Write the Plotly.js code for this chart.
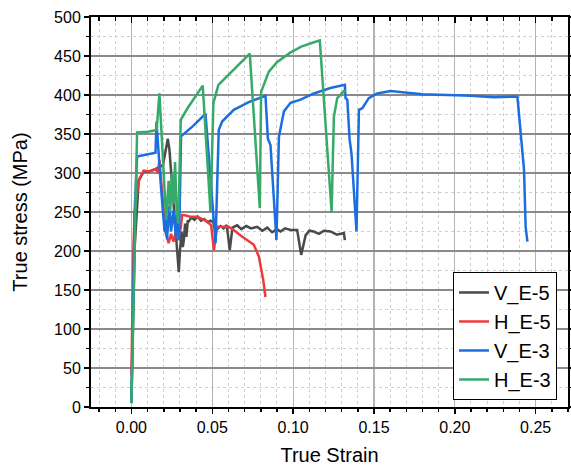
<!DOCTYPE html>
<html><head><meta charset="utf-8">
<script src="https://cdn.plot.ly/plotly-3.0.1.min.js"></script>
<style>html,body{margin:0;padding:0;background:#fff}#chart{width:571px;height:470px}</style>
</head><body><div id="chart"></div>
<script>
// Data
const seriesNames = ["V_E-5", "H_E-5", "V_E-3", "H_E-3"];

const vE5_x = [0.0, 0.001, 0.002, 0.0045, 0.0076, 0.011, 0.0149, 0.0195, 0.0215, 0.0225, 0.0235, 0.0252, 0.027, 0.0285, 0.0293, 0.030, 0.031, 0.0318, 0.0324, 0.0332, 0.034, 0.0348, 0.0355, 0.037, 0.039, 0.041, 0.043, 0.045, 0.047, 0.049, 0.051, 0.053, 0.055, 0.057, 0.059, 0.0608, 0.0625, 0.0654, 0.068, 0.071, 0.074, 0.0778, 0.081, 0.084, 0.087, 0.090, 0.0922, 0.095, 0.0984, 0.1025, 0.105, 0.1077, 0.110, 0.1128, 0.116, 0.119, 0.1231, 0.127, 0.1314, 0.132];
const vE5_y = [5, 110, 205, 290, 302, 302, 305, 310, 330, 344, 330, 287, 240, 200, 173, 200, 225, 205, 214, 235, 218, 238, 238, 243, 240, 244, 239, 241, 237, 239, 236, 228, 232, 229, 233, 201, 230, 233, 228, 232, 229, 231, 226, 230, 224, 228, 225, 229, 227, 227, 195, 220, 226, 225, 222, 226, 225, 221, 223, 214];

const hE5_x = [0.0, 0.0005, 0.0012, 0.002, 0.0045, 0.0076, 0.011, 0.0149, 0.0165, 0.0173, 0.019, 0.021, 0.023, 0.0245, 0.026, 0.0275, 0.029, 0.0305, 0.0314, 0.0324, 0.0365, 0.0407, 0.0468, 0.0493, 0.051, 0.053, 0.0602, 0.0633, 0.0675, 0.0705, 0.0757, 0.0788, 0.0815, 0.0829];
const hE5_y = [40, 120, 200, 249, 291, 303, 302, 305, 300, 317, 270, 225, 210, 222, 212, 225, 214, 230, 246, 246, 244, 244, 238, 233, 201, 231, 231, 227, 220, 216, 208, 193, 163, 141];

const vE3_x = [0.0, 0.001, 0.002, 0.0035, 0.008, 0.0149, 0.0155, 0.0165, 0.018, 0.0195, 0.0205, 0.0215, 0.022, 0.0235, 0.0245, 0.026, 0.0275, 0.0285, 0.0295, 0.0307, 0.0344, 0.038, 0.042, 0.0458, 0.052, 0.054, 0.0561, 0.0633, 0.0726, 0.0829, 0.0844, 0.086, 0.0897, 0.0912, 0.0943, 0.0984, 0.1046, 0.1128, 0.1231, 0.132, 0.1324, 0.1335, 0.1349, 0.1361, 0.1392, 0.1407, 0.1428, 0.1468, 0.152, 0.1603, 0.1706, 0.18, 0.1954, 0.21, 0.2242, 0.2387, 0.2428, 0.2438, 0.2449];
const vE3_y = [5, 120, 250, 321, 323, 326, 366, 330, 290, 250, 225, 245, 215, 258, 225, 252, 218, 255, 214, 347, 353, 360, 368, 376, 210, 355, 366, 381, 391, 399, 344, 336, 214, 346, 379, 390, 394, 402, 409, 413, 396, 394, 344, 325, 225, 381, 383, 396, 402, 405, 403, 401, 400, 399, 397, 398, 304, 231, 212];

const hE3_x = [0.0, 0.001, 0.002, 0.0035, 0.01, 0.0156, 0.0173, 0.019, 0.0205, 0.0215, 0.023, 0.024, 0.025, 0.026, 0.027, 0.028, 0.029, 0.0297, 0.0305, 0.0347, 0.0441, 0.0489, 0.0507, 0.0538, 0.0613, 0.0732, 0.0794, 0.0802, 0.085, 0.090, 0.098, 0.105, 0.112, 0.1165, 0.1238, 0.1252, 0.1273, 0.1314, 0.1324];
const hE3_y = [5, 100, 220, 352, 353, 355, 402, 330, 270, 240, 290, 250, 300, 260, 314, 250, 235, 300, 368, 383, 412, 250, 390, 413, 428, 453, 255, 404, 430, 442, 454, 462, 467, 470, 250, 372, 396, 405, 404];

const colors = ["#4a4a4a", "#ee3a3a", "#1c6ee0", "#36aa68"];
const xs = [vE5_x, hE5_x, vE3_x, hE3_x];
const ys = [vE5_y, hE5_y, vE3_y, hE3_y];

const traces = seriesNames.map((n, i) => ({
  x: xs[i], y: ys[i], name: n, type: "scatter", mode: "lines",
  line: {color: colors[i], width: 2.5}
}));
// invisible trace to activate the top (mirror) axis
traces.push({x: [null], y: [null], xaxis: "x2", yaxis: "y", showlegend: false, hoverinfo: "skip", mode: "lines"});

const font = {family: "Arial, Liberation Sans, sans-serif", color: "#000"};
const layout = {
  width: 571, height: 470,
  margin: {l: 91, r: 3, t: 17, b: 63},
  paper_bgcolor: "#fff", plot_bgcolor: "#fff",
  showlegend: true,
  legend: {x: 0.977, xanchor: "right", y: 0.018, yanchor: "bottom",
    bgcolor: "#fff", bordercolor: "#000", borderwidth: 1,
    font: Object.assign({}, font, {size: 20}), tracegroupgap: 0, itemwidth: 30},
  xaxis: {
    range: [-0.025, 0.27], tickvals: [0, 0.05, 0.1, 0.15, 0.2, 0.25],
    ticktext: ["0.00", "0.05", "0.10", "0.15", "0.20", "0.25"],
    ticks: "outside", ticklen: 5, tickwidth: 1.5, tickcolor: "#000",
    showline: true, linecolor: "#000", linewidth: 2, zeroline: false,
    showgrid: true, gridcolor: "#b4b4b4", gridwidth: 1.2,
    minor: {dtick: 0.01, tick0: 0, ticks: "outside", ticklen: 3, tickcolor: "#000", showgrid: true, gridcolor: "#cfcfcf", griddash: "dot", gridwidth: 1},
    tickfont: Object.assign({}, font, {size: 16}),
    title: {text: "True Strain", font: Object.assign({}, font, {size: 20}), standoff: 13}
  },
  xaxis2: {
    overlaying: "x", side: "top", range: [-0.025, 0.27], tickvals: [0, 0.05, 0.1, 0.15, 0.2, 0.25],
    ticks: "inside", ticklen: 6, tickwidth: 1.5, tickcolor: "#000", showticklabels: false,
    showline: true, linecolor: "#000", linewidth: 2, showgrid: false, zeroline: false,
    minor: {dtick: 0.01, tick0: 0, ticks: "inside", ticklen: 4, tickcolor: "#000", showgrid: false}
  },
  yaxis: {
    range: [0, 500], dtick: 50, tick0: 0,
    ticks: "outside", ticklen: 5, tickwidth: 1.5, tickcolor: "#000",
    showline: true, linecolor: "#000", linewidth: 2, mirror: "ticks", zeroline: false,
    showgrid: true, gridcolor: "#8a8a8a", gridwidth: 1.2,
    minor: {dtick: 25, tick0: 0, ticks: "outside", ticklen: 3, tickcolor: "#000", showgrid: true, gridcolor: "#cfcfcf", griddash: "dot", gridwidth: 1},
    tickfont: Object.assign({}, font, {size: 16}),
    title: {text: "True stress (MPa)", font: Object.assign({}, font, {size: 20}), standoff: 21}
  }
};
Plotly.newPlot("chart", traces, layout, {staticPlot: true, displayModeBar: false});
</script></body></html>
